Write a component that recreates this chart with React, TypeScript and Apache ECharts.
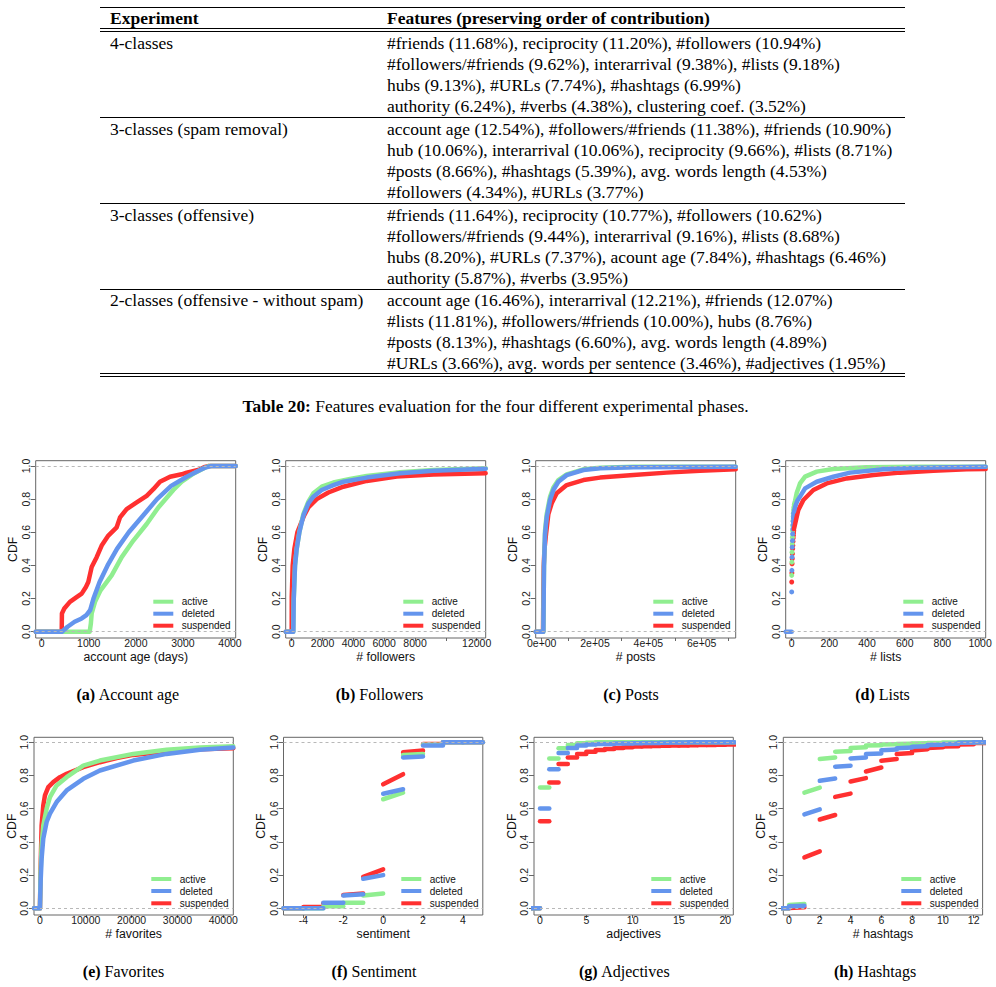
import React, { useEffect, useRef } from 'react';
import * as echarts from 'echarts';

const SANS = '"Liberation Sans", Arial, Helvetica, sans-serif';
const SERIF = '"Liberation Serif", "Times New Roman", Times, serif';

// ---------------- table ----------------
const TABLE_HEADERS = ['Experiment', 'Features (preserving order of contribution)'];
const TABLE_EXPERIMENTS = [
  '4-classes',
  '3-classes (spam removal)',
  '3-classes (offensive)',
  '2-classes (offensive - without spam)',
];
const TABLE_FEATURES_1 = [
  '#friends (11.68%), reciprocity (11.20%), #followers (10.94%)',
  '#followers/#friends (9.62%), interarrival (9.38%), #lists (9.18%)',
  'hubs (9.13%), #URLs (7.74%), #hashtags (6.99%)',
  'authority (6.24%), #verbs (4.38%), clustering coef. (3.52%)',
];
const TABLE_FEATURES_2 = [
  'account age (12.54%), #followers/#friends (11.38%), #friends (10.90%)',
  'hub (10.06%), interarrival (10.06%), reciprocity (9.66%), #lists (8.71%)',
  '#posts (8.66%), #hashtags (5.39%), avg. words length (4.53%)',
  '#followers (4.34%), #URLs (3.77%)',
];
const TABLE_FEATURES_3 = [
  '#friends (11.64%), reciprocity (10.77%), #followers (10.62%)',
  '#followers/#friends (9.44%), interarrival (9.16%), #lists (8.68%)',
  'hubs (8.20%), #URLs (7.37%), acount age (7.84%), #hashtags (6.46%)',
  'authority (5.87%), #verbs (3.95%)',
];
const TABLE_FEATURES_4 = [
  'account age (16.46%), interarrival (12.21%), #friends (12.07%)',
  '#lists (11.81%), #followers/#friends (10.00%), hubs (8.76%)',
  '#posts (8.13%), #hashtags (6.60%), avg. words length (4.89%)',
  '#URLs (3.66%), avg. words per sentence (3.46%), #adjectives (1.95%)',
];
const TABLE_CAPTION_LABEL = 'Table 20:';
const TABLE_CAPTION_TEXT = ' Features evaluation for the four different experimental phases.';

// ---------------- figure texts ----------------
const NAMES = ['active', 'deleted', 'suspended'];
const COLORS = ['#90EE90', '#6495ED', '#FF3030'];
const X_LABELS = ['account age (days)', '# followers', '# posts', '# lists', '# favorites', 'sentiment', 'adjectives', '# hashtags'];
const CAPTION_LETTERS = ['(a)', '(b)', '(c)', '(d)', '(e)', '(f)', '(g)', '(h)'];
const CAPTION_TITLES = ['Account age', 'Followers', 'Posts', 'Lists', 'Favorites', 'Sentiment', 'Adjectives', 'Hashtags'];
const Y_TICKS = [0, 0.2, 0.4, 0.6, 0.8, 1.0];

// ---------------- (a) account age ----------------
const AGE_RANGE = [-127, 4121];
const AGE_TICKS = [0, 1000, 2000, 3000, 4000];
const AGE_ACTIVE_X = [-127, 1020, 1045, 1062, 1133, 1250, 1487, 1700, 1947, 2230, 2478, 2797, 2974, 3200, 3434, 3550, 4121];
const AGE_ACTIVE_Y = [0, 0, 0.05, 0.11, 0.18, 0.25, 0.34, 0.45, 0.55, 0.65, 0.75, 0.855, 0.905, 0.95, 0.985, 1, 1];
const AGE_DELETED_X = [-127, 430, 550, 700, 850, 950, 1030, 1100, 1230, 1400, 1600, 1850, 2150, 2450, 2750, 3080, 3363, 3470, 3600, 4121];
const AGE_DELETED_Y = [0, 0, 0.03, 0.06, 0.08, 0.1, 0.13, 0.2, 0.3, 0.4, 0.5, 0.6, 0.7, 0.8, 0.88, 0.935, 0.976, 0.99, 1, 1];
const AGE_SUSP_X = [-127, 425, 430, 480, 600, 750, 850, 940, 990, 1062, 1168, 1274, 1416, 1593, 1664, 1805, 2018, 2230, 2372, 2513, 2726, 2974, 3080, 3363, 3470, 3550, 4121];
const AGE_SUSP_Y = [0, 0, 0.11, 0.14, 0.18, 0.21, 0.23, 0.27, 0.30, 0.39, 0.45, 0.52, 0.58, 0.63, 0.69, 0.74, 0.78, 0.82, 0.86, 0.905, 0.935, 0.95, 0.96, 0.98, 0.995, 1, 1];

// ---------------- (b) followers ----------------
const FOL_RANGE = [-389, 12584];
const FOL_TICKS = [0, 2000, 4000, 6000, 8000, 10000, 12000];
const FOL_LABELS = [0, 2000, 4000, 6000, 8000, 12000];
const FOL_ACTIVE_X = [-389, 100, 130, 216, 324, 497, 757, 1081, 1405, 1946, 2703, 3784, 4865, 7027, 9189, 12584];
const FOL_ACTIVE_Y = [0, 0, 0.19, 0.40, 0.5, 0.6, 0.71, 0.785, 0.835, 0.875, 0.90, 0.922, 0.94, 0.962, 0.976, 0.986];
const FOL_DELETED_X = [-389, 108, 130, 216, 324, 497, 757, 1081, 1405, 1946, 2703, 3351, 4865, 7027, 9189, 12584];
const FOL_DELETED_Y = [0, 0, 0.19, 0.40, 0.5, 0.6, 0.70, 0.775, 0.815, 0.855, 0.885, 0.905, 0.93, 0.956, 0.972, 0.984];
const FOL_SUSP_X = [-389, 0, 5, 65, 173, 368, 800, 1081, 1622, 2378, 3351, 4865, 6811, 9189, 12584];
const FOL_SUSP_Y = [0, 0, 0.21, 0.40, 0.50, 0.60, 0.70, 0.75, 0.80, 0.84, 0.875, 0.91, 0.936, 0.948, 0.956];

// ---------------- (c) posts ----------------
const POST_RANGE = [-22500, 727500];
const POST_TICKS = [0, 100000, 200000, 300000, 400000, 500000, 600000, 700000];
const POST_LABELS = [0, 200000, 400000, 600000];
const POST_ACTIVE_X = [-22500, 6250, 7500, 8750, 12500, 18750, 31250, 43750, 62500, 93750, 156250, 218750, 343750, 727500];
const POST_ACTIVE_Y = [0, 0, 0.21, 0.41, 0.61, 0.71, 0.815, 0.87, 0.915, 0.95, 0.98, 0.99, 0.996, 0.996];
const POST_DELETED_X = [-22500, 6250, 7500, 8750, 12500, 18750, 31250, 43750, 62500, 93750, 156250, 218750, 343750, 727500];
const POST_DELETED_Y = [0, 0, 0.21, 0.40, 0.59, 0.69, 0.795, 0.855, 0.905, 0.945, 0.976, 0.986, 0.993, 0.995];
const POST_SUSP_X = [-22500, 5000, 6250, 7500, 10000, 16250, 25000, 37500, 56250, 93750, 156250, 218750, 343750, 468750, 593750, 727500];
const POST_SUSP_Y = [0, 0, 0.25, 0.39, 0.49, 0.59, 0.71, 0.775, 0.835, 0.885, 0.915, 0.93, 0.945, 0.96, 0.972, 0.98];

// ---------------- (d) lists ----------------
const LIST_RANGE = [-31.9, 1030];
const LIST_TICKS = [0, 200, 400, 600, 800, 1000];
const LIST_DOT_X = [0, 1, 2, 3, 4, 5, 6, 7, 8, 9, 10, 11];
const LIST_ACTIVE_DOTS = [0.34, 0.42, 0.48, 0.53, 0.57, 0.61, 0.64, 0.67, 0.695, 0.715, 0.735, 0.75];
const LIST_DELETED_DOTS = [0.24, 0.37, 0.45, 0.51, 0.55, 0.59, 0.62, 0.645, 0.665, 0.685, 0.70, 0.715];
const LIST_SUSP_DOTS = [0.30, 0.355, 0.41, 0.44, 0.47, 0.50, 0.52, 0.545, 0.565, 0.58, 0.595, 0.61];
const LIST_ACTIVE_X = [12, 18, 26, 44, 71, 133, 221, 398, 664, 1030];
const LIST_ACTIVE_Y = [0.765, 0.79, 0.835, 0.895, 0.936, 0.966, 0.982, 0.992, 0.996, 0.996];
const LIST_DELETED_X = [12, 20, 30, 44, 71, 133, 221, 310, 487, 664, 1030];
const LIST_DELETED_Y = [0.725, 0.76, 0.79, 0.815, 0.865, 0.905, 0.935, 0.96, 0.98, 0.99, 0.996];
const LIST_SUSP_X = [12, 18, 24, 35, 62, 115, 186, 292, 434, 575, 752, 929, 1030];
const LIST_SUSP_Y = [0.62, 0.65, 0.68, 0.734, 0.795, 0.855, 0.895, 0.925, 0.946, 0.96, 0.972, 0.98, 0.982];
const LIST_ZERO_X = [-31.9, 0];
const LIST_ZERO_Y = [0, 0];

// ---------------- (e) favorites ----------------
const FAV_RANGE = [-1300, 42200];
const FAV_TICKS = [0, 10000, 20000, 30000, 40000];
const FAV_ACTIVE_X = [-1300, 0, 145, 364, 727, 1455, 2182, 3636, 5818, 9455, 13091, 20364, 27636, 34909, 42200];
const FAV_ACTIVE_Y = [0, 0, 0.22, 0.38, 0.5, 0.6, 0.67, 0.74, 0.79, 0.86, 0.89, 0.93, 0.955, 0.968, 0.976];
const FAV_DELETED_X = [-1300, 0, 145, 364, 727, 1455, 2182, 3636, 5818, 9455, 13091, 20364, 27636, 34909, 42200];
const FAV_DELETED_Y = [0, 0, 0.16, 0.3, 0.42, 0.52, 0.57, 0.64, 0.71, 0.78, 0.83, 0.89, 0.93, 0.955, 0.968];
const FAV_SUSP_X = [-1300, 0, 145, 364, 727, 1091, 1818, 2909, 4364, 5818, 9455, 13091, 16727, 20364, 27636, 34909, 42200];
const FAV_SUSP_Y = [0, 0, 0.24, 0.5, 0.62, 0.68, 0.73, 0.76, 0.79, 0.81, 0.85, 0.88, 0.905, 0.924, 0.944, 0.958, 0.964];

// ---------------- (f) sentiment (step segments [k, k+1]) ----------------
const SENT_RANGE = [-5, 5];
const SENT_TICKS = [-4, -2, 0, 2, 4];
const SENT_K = [-5, -4, -3, -2, -1, 0, 1, 2, 3, 4];
const SENT_ACTIVE_Y0 = [0, 0, 0.012, 0.034, 0.077, 0.657, 0.923, 0.985, 1, 1];
const SENT_ACTIVE_Y1 = [0, 0, 0.012, 0.034, 0.09, 0.697, 0.93, 0.985, 1, 1];
const SENT_DELETED_Y0 = [0, 0, 0.034, 0.077, 0.178, 0.69, 0.909, 0.98, 1, 1];
const SENT_DELETED_Y1 = [0, 0, 0.034, 0.085, 0.2, 0.717, 0.915, 0.98, 1, 1];
const SENT_SUSP_Y0 = [0, 0.008, 0.03, 0.08, 0.19, 0.747, 0.94, 0.99, 1, 1];
const SENT_SUSP_Y1 = [0, 0.008, 0.03, 0.09, 0.235, 0.808, 0.95, 0.99, 1, 1];

// ---------------- (g) adjectives ----------------
const ADJ_RANGE = [-0.65, 20.87];
const ADJ_TICKS = [0, 5, 10, 15, 20];
const ADJ_K = [-1, 0, 1, 2, 3, 4, 5, 6, 7, 8, 9, 10, 11, 12, 13, 14, 15, 16, 17, 18, 19, 20];
const ADJ_ACTIVE_Y = [0, 0.727, 0.903, 0.964, 0.984, 0.994, 0.997, 1, 1, 1, 1, 1, 1, 1, 1, 1, 1, 1, 1, 1, 1, 1];
const ADJ_DELETED_Y = [0, 0.602, 0.838, 0.935, 0.966, 0.98, 0.986, 0.989, 0.99, 0.992, 0.993, 0.994, 0.995, 0.996, 0.997, 0.998, 0.999, 1, 1, 1, 1, 1];
const ADJ_SUSP_Y = [0, 0.525, 0.758, 0.869, 0.909, 0.929, 0.943, 0.954, 0.96, 0.966, 0.97, 0.974, 0.976, 0.978, 0.979, 0.98, 0.981, 0.982, 0.983, 0.984, 0.985, 0.986];

// ---------------- (h) hashtags ----------------
const HASH_RANGE = [-0.37, 12.58];
const HASH_TICKS = [0, 2, 4, 6, 8, 10, 12];
const HASH_K = [-1, 0, 1, 2, 3, 4, 5, 6, 7, 8, 9, 10, 11, 12];
const HASH_ACTIVE_Y0 = [0, 0.02, 0.697, 0.899, 0.943, 0.966, 0.98, 0.986, 0.99, 0.993, 0.996, 0.998, 1, 1];
const HASH_ACTIVE_Y1 = [0, 0.026, 0.727, 0.909, 0.947, 0.97, 0.982, 0.988, 0.991, 0.994, 0.996, 0.998, 1, 1];
const HASH_DELETED_Y0 = [0, 0.012, 0.566, 0.768, 0.853, 0.903, 0.929, 0.952, 0.964, 0.973, 0.983, 0.99, 0.997, 1];
const HASH_DELETED_Y1 = [0, 0.016, 0.596, 0.782, 0.859, 0.909, 0.933, 0.956, 0.968, 0.976, 0.985, 0.991, 0.998, 1];
const HASH_SUSP_Y0 = [0, 0.002, 0.307, 0.535, 0.671, 0.764, 0.824, 0.889, 0.929, 0.95, 0.966, 0.974, 0.986, 0.996];
const HASH_SUSP_Y1 = [0, 0.006, 0.343, 0.562, 0.691, 0.784, 0.848, 0.899, 0.935, 0.958, 0.97, 0.976, 0.988, 0.996];

// ---------------- layout ----------------
const ROW_BOX = [
  { top: 460.7, height: 177.3, lefts: [35.7, 285.7, 535.7, 785.7], width: 200, ymin: -0.038, ymax: 1.032, legendX: 153.3, legendTextX: 181.7, legendY: [601.7, 613.7, 625.7], capX: [128, 379.5, 631, 882.5], capY: 694 },
  { top: 737.3, height: 177.7, lefts: [34, 283.5, 534, 783.3], width: 199.3, ymin: -0.040, ymax: 1.030, legendX: 151.3, legendTextX: 179.7, legendY: [879, 891, 903.3], capX: [123.5, 374, 624.5, 875], capY: 971.5 },
];

const curve = (x: number[], y: number[]) => ({ x, y });
const numFmt = (v: number) => String(v);
const sciFmt = (v: number) => (v === 0 ? '0e+00' : `${Math.round(v / 100000)}e+05`);

const PLOTS: any[] = [
  { kind: 'line', range: AGE_RANGE, ticks: AGE_TICKS, labels: AGE_TICKS, fmt: numFmt,
    curves: [curve(AGE_ACTIVE_X, AGE_ACTIVE_Y), curve(AGE_DELETED_X, AGE_DELETED_Y), curve(AGE_SUSP_X, AGE_SUSP_Y)] },
  { kind: 'line', range: FOL_RANGE, ticks: FOL_TICKS, labels: FOL_LABELS, fmt: numFmt,
    curves: [curve(FOL_ACTIVE_X, FOL_ACTIVE_Y), curve(FOL_DELETED_X, FOL_DELETED_Y), curve(FOL_SUSP_X, FOL_SUSP_Y)] },
  { kind: 'line', range: POST_RANGE, ticks: POST_TICKS, labels: POST_LABELS, fmt: sciFmt,
    curves: [curve(POST_ACTIVE_X, POST_ACTIVE_Y), curve(POST_DELETED_X, POST_DELETED_Y), curve(POST_SUSP_X, POST_SUSP_Y)] },
  { kind: 'list', range: LIST_RANGE, ticks: LIST_TICKS, labels: LIST_TICKS, fmt: numFmt,
    dotX: LIST_DOT_X, dots: [LIST_ACTIVE_DOTS, LIST_DELETED_DOTS, LIST_SUSP_DOTS],
    curves: [curve(LIST_ACTIVE_X, LIST_ACTIVE_Y), curve(LIST_DELETED_X, LIST_DELETED_Y), curve(LIST_SUSP_X, LIST_SUSP_Y)],
    zero: curve(LIST_ZERO_X, LIST_ZERO_Y) },
  { kind: 'line', range: FAV_RANGE, ticks: FAV_TICKS, labels: FAV_TICKS, fmt: numFmt,
    curves: [curve(FAV_ACTIVE_X, FAV_ACTIVE_Y), curve(FAV_DELETED_X, FAV_DELETED_Y), curve(FAV_SUSP_X, FAV_SUSP_Y)] },
  { kind: 'seg', range: SENT_RANGE, ticks: SENT_TICKS, labels: SENT_TICKS, fmt: numFmt, k: SENT_K,
    y0: [SENT_ACTIVE_Y0, SENT_DELETED_Y0, SENT_SUSP_Y0], y1: [SENT_ACTIVE_Y1, SENT_DELETED_Y1, SENT_SUSP_Y1] },
  { kind: 'seg', range: ADJ_RANGE, ticks: ADJ_TICKS, labels: ADJ_TICKS, fmt: numFmt, k: ADJ_K,
    y0: [ADJ_ACTIVE_Y, ADJ_DELETED_Y, ADJ_SUSP_Y], y1: [ADJ_ACTIVE_Y, ADJ_DELETED_Y, ADJ_SUSP_Y] },
  { kind: 'seg', range: HASH_RANGE, ticks: HASH_TICKS, labels: HASH_TICKS, fmt: numFmt, k: HASH_K,
    y0: [HASH_ACTIVE_Y0, HASH_DELETED_Y0, HASH_SUSP_Y0], y1: [HASH_ACTIVE_Y1, HASH_DELETED_Y1, HASH_SUSP_Y1] },
];

// suspended first, then active, deleted on top
const DRAW_ORDER = [2, 0, 1];

function buildOption() {
  const grids: any[] = [];
  const xAxes: any[] = [];
  const yAxes: any[] = [];
  const series: any[] = [];
  const graphic: any[] = [];

  PLOTS.forEach((p, gi) => {
    const row = ROW_BOX[gi < 4 ? 0 : 1];
    const col = gi % 4;
    grids.push({
      left: row.lefts[col], top: row.top, width: row.width, height: row.height,
      show: true, borderColor: '#666', borderWidth: 1, backgroundColor: 'transparent', containLabel: false,
    });
    xAxes.push({
      type: 'value', gridIndex: gi, min: p.range[0], max: p.range[1],
      axisLine: { show: false, onZero: false }, splitLine: { show: false },
      axisTick: { show: true, length: 3, customValues: p.ticks, lineStyle: { color: '#666', width: 1 } },
      axisLabel: { show: true, customValues: p.labels, formatter: p.fmt, margin: -1, fontSize: 10.5, color: '#1a1a1a', fontFamily: SANS, hideOverlap: false },
      name: X_LABELS[gi], nameLocation: 'middle', nameGap: 13,
      nameTextStyle: { fontSize: 12.3, color: '#111', fontFamily: SANS },
    });
    yAxes.push({
      type: 'value', gridIndex: gi, min: row.ymin, max: row.ymax,
      axisLine: { show: false, onZero: false }, splitLine: { show: false },
      axisTick: { show: true, length: 5, customValues: Y_TICKS, lineStyle: { color: '#666', width: 1 } },
      axisLabel: { show: true, customValues: Y_TICKS, rotate: 90, margin: 4.5, fontSize: 10.5, color: '#1a1a1a', fontFamily: SANS, formatter: (v: number) => v.toFixed(1), hideOverlap: false },
      name: 'CDF', nameLocation: 'middle', nameGap: 13.5, nameRotate: 90,
      nameTextStyle: { fontSize: 12.3, color: '#111', fontFamily: SANS },
    });

    const base = { xAxisIndex: gi, yAxisIndex: gi, silent: true, animation: false };
    const markLine = {
      silent: true, symbol: ['none', 'none'], animation: false,
      label: { show: false },
      lineStyle: { type: [3, 3], color: '#b8b8b8', width: 1 },
      data: [{ yAxis: 0 }, { yAxis: 1 }],
    };

    let markAttached = false;
    const push = (s: any) => {
      if (!markAttached) { s.markLine = markLine; markAttached = true; }
      series.push(s);
    };

    DRAW_ORDER.forEach((si) => {
      const color = COLORS[si];
      const lineCommon = {
        ...base, type: 'line', name: NAMES[si], showSymbol: false, symbol: 'none', clip: true,
        lineStyle: { color, width: 4.5, cap: 'round', join: 'round' }, itemStyle: { color },
      };
      if (p.kind === 'line') {
        const c = p.curves[si];
        push({ ...lineCommon, data: c.x.map((x: number, j: number) => [x, c.y[j]]) });
      } else if (p.kind === 'list') {
        push({
          ...base, type: 'scatter', name: NAMES[si], symbol: 'circle', symbolSize: 5,
          itemStyle: { color, opacity: 1 },
          data: p.dotX.map((x: number, j: number) => [x, p.dots[si][j]]),
        });
        const c = p.curves[si];
        push({ ...lineCommon, data: c.x.map((x: number, j: number) => [x, c.y[j]]) });
        if (si === 1) {
          push({ ...lineCommon, data: p.zero.x.map((x: number, j: number) => [x, p.zero.y[j]]) });
        }
      } else {
        p.k.forEach((k: number, j: number) => {
          push({ ...lineCommon, data: [[k, p.y0[si][j]], [k + 1, p.y1[si][j]]] });
        });
      }
    });

    // legend (drawn like R's legend without box)
    const ox = col * 250;
    NAMES.forEach((nm, si) => {
      const ly = row.legendY[si];
      graphic.push({
        type: 'line', silent: true, z: 100,
        shape: { x1: ox + row.legendX, y1: ly, x2: ox + row.legendX + 20, y2: ly },
        style: { stroke: COLORS[si], lineWidth: 4 },
      });
      graphic.push({
        type: 'text', silent: true, z: 100, x: ox + row.legendTextX, y: ly,
        style: { text: nm, fill: '#111', fontSize: 10, fontFamily: SANS, align: 'left', verticalAlign: 'middle', textAlign: 'left', textVerticalAlign: 'middle' },
      });
    });

    // sub-caption
    graphic.push({
      type: 'text', silent: true, x: row.capX[col], y: row.capY,
      style: {
        text: `{b|${CAPTION_LETTERS[gi]}} ${CAPTION_TITLES[gi]}`,
        rich: { b: { fontWeight: 'bold', fontFamily: SERIF, fontSize: 16, fill: '#000' } },
        fill: '#000', fontSize: 16, fontFamily: SERIF,
        align: 'center', verticalAlign: 'middle', textAlign: 'center', textVerticalAlign: 'middle',
      },
    });
  });

  // ---------------- table ----------------
  const TL = 100, TR = 905, C1 = 110, C2 = 387;
  const hline = (y: number) => ({
    type: 'line', silent: true, shape: { x1: TL, y1: y, x2: TR, y2: y },
    style: { stroke: '#000', lineWidth: 1 },
  });
  [7.5, 28.5, 31.5, 117.5, 203.5, 289.5, 373.5, 376.5].forEach((y) => graphic.push(hline(y)));
  const txt = (x: number, y: number, text: string, bold = false) => ({
    type: 'text', silent: true, x, y,
    style: { text, fill: '#000', fontSize: 17.5, fontFamily: SERIF, fontWeight: bold ? 'bold' : 'normal',
      align: 'left', verticalAlign: 'middle', textAlign: 'left', textVerticalAlign: 'middle' },
  });
  graphic.push(txt(C1, 17.5, TABLE_HEADERS[0], true));
  graphic.push(txt(C2, 17.5, TABLE_HEADERS[1], true));
  const groupTops = [43, 129, 214.5, 300];
  const groups = [TABLE_FEATURES_1, TABLE_FEATURES_2, TABLE_FEATURES_3, TABLE_FEATURES_4];
  groups.forEach((lines, g) => {
    graphic.push(txt(C1, groupTops[g], TABLE_EXPERIMENTS[g]));
    lines.forEach((ln, j) => graphic.push(txt(C2, groupTops[g] + j * 21, ln)));
  });
  graphic.push({
    type: 'text', silent: true, x: 495.5, y: 406,
    style: {
      text: `{b|${TABLE_CAPTION_LABEL}}${TABLE_CAPTION_TEXT}`,
      rich: { b: { fontWeight: 'bold', fontFamily: SERIF, fontSize: 17.4, fill: '#000' } },
      fill: '#000', fontSize: 17.4, fontFamily: SERIF,
      align: 'center', verticalAlign: 'middle', textAlign: 'center', textVerticalAlign: 'middle',
    },
  });

  return {
    animation: false,
    backgroundColor: '#ffffff',
    grid: grids,
    xAxis: xAxes,
    yAxis: yAxes,
    series,
    graphic: { elements: graphic },
  };
}

export default function App() {
  const ref = useRef<HTMLDivElement>(null);
  useEffect(() => {
    if (!ref.current) return;
    const chart = echarts.init(ref.current, undefined, { renderer: 'svg' });
    chart.setOption(buildOption() as any);
    return () => chart.dispose();
  }, []);
  return (
    <div
      ref={ref}
      style={{ position: 'absolute', left: 0, top: 0, width: 996, height: 987, background: '#fff' }}
    />
  );
}
